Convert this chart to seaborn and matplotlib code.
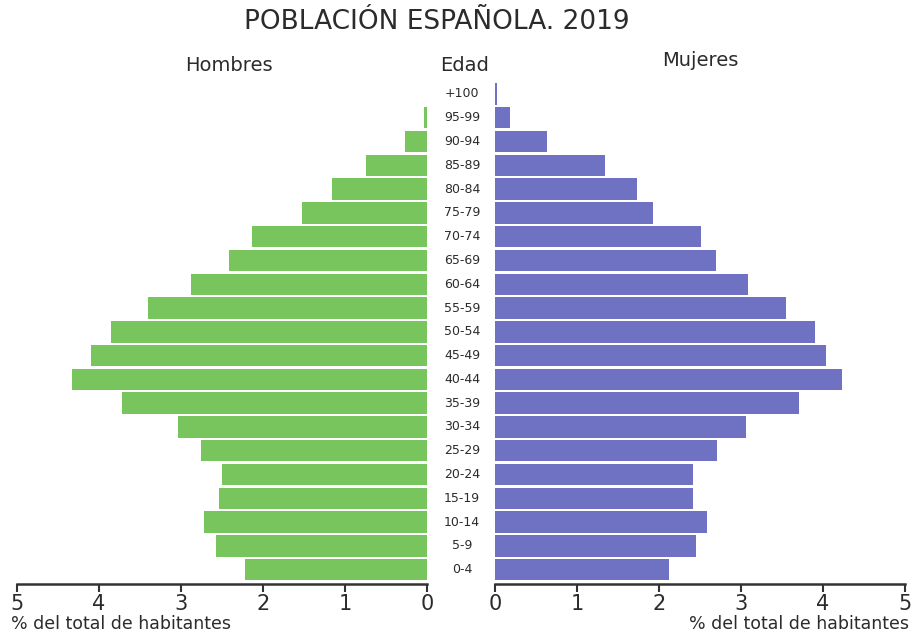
import numpy as np
import pandas as pd
import matplotlib
matplotlib.use("Agg")
import matplotlib.pyplot as plt
import matplotlib.transforms as mtransforms
import seaborn as sns

# Datos: % del total de habitantes por grupo de edad
edades = ["+100", "95-99", "90-94", "85-89", "80-84", "75-79", "70-74",
          "65-69", "60-64", "55-59", "50-54", "45-49", "40-44", "35-39",
          "30-34", "25-29", "20-24", "15-19", "10-14", "5-9", "0-4"]
hombres = [0.0, 0.04, 0.27, 0.74, 1.16, 1.52, 2.13, 2.41, 2.88, 3.40, 3.85,
           4.10, 4.33, 3.72, 3.04, 2.76, 2.50, 2.54, 2.72, 2.57, 2.22]
mujeres = [0.02, 0.18, 0.63, 1.34, 1.73, 1.93, 2.51, 2.70, 3.09, 3.55, 3.90,
           4.04, 4.23, 3.71, 3.06, 2.71, 2.41, 2.41, 2.59, 2.45, 2.12]
ticks = [0, 1, 2, 3, 4, 5]

df = pd.DataFrame({"edad": edades, "hombres": hombres, "mujeres": mujeres})

sns.set_theme(style="white")
plt.rcParams["font.family"] = ["DejaVu Sans"]

VERDE = "#78c55d"
MORADO = "#6f72c2"
TXT = "#2b2b2b"

fig = plt.figure(figsize=(9.14, 6.37), dpi=100)
ax_h = fig.add_axes([0.0186, 0.0832, 0.4486, 0.788])
ax_m = fig.add_axes([0.5416, 0.0832, 0.4486, 0.788])

sns.barplot(data=df, x="hombres", y="edad", order=edades, color=VERDE,
            width=0.9, linewidth=0, saturation=1, ax=ax_h)
sns.barplot(data=df, x="mujeres", y="edad", order=edades, color=MORADO,
            width=0.9, linewidth=0, saturation=1, ax=ax_m)

ax_h.set_xlim(5, 0)
ax_m.set_xlim(0, 5)

for ax in (ax_h, ax_m):
    ax.set_ylim(20.6, -0.5)
    ax.set_yticks([])
    ax.set_ylabel("")
    ax.set_xlabel("")
    ax.set_xticks(ticks)
    ax.set_xticklabels([str(t) for t in ticks], fontsize=15, color=TXT)
    for s in ("top", "left", "right"):
        ax.spines[s].set_visible(False)
    ax.spines["bottom"].set_color("#333333")
    ax.spines["bottom"].set_linewidth(1.8)
    ax.tick_params(axis="x", bottom=True, length=6, width=1.5,
                   color="#333333", pad=1)
    ax.set_facecolor("none")

# Etiquetas de edad en el centro
trans = mtransforms.blended_transform_factory(fig.transFigure, ax_h.transData)
for i, e in enumerate(edades):
    ax_h.text(0.5055, i, e, transform=trans, ha="center", va="center",
              fontsize=9, color=TXT, clip_on=False)

fig.text(0.478, 0.966, "POBLACIÓN ESPAÑOLA. 2019", ha="center", va="center",
         fontsize=19, color=TXT)
fig.text(0.251, 0.897, "Hombres", ha="center", va="center", fontsize=14, color=TXT)
fig.text(0.508, 0.897, "Edad", ha="center", va="center", fontsize=14, color=TXT)
fig.text(0.766, 0.905, "Mujeres", ha="center", va="center", fontsize=14, color=TXT)

fig.text(0.012, 0.02, "% del total de habitantes", ha="left", va="center",
         fontsize=12.5, color=TXT)
fig.text(0.995, 0.02, "% del total de habitantes", ha="right", va="center",
         fontsize=12.5, color=TXT)

fig.savefig("out.png", dpi=100)
